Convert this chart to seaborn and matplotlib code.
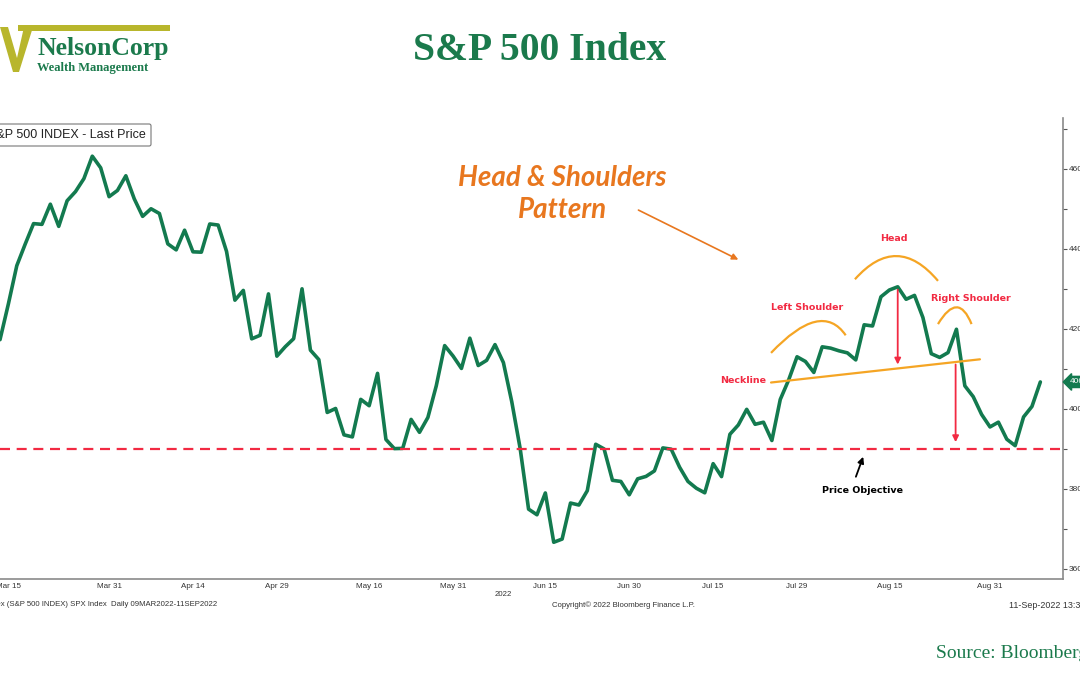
import numpy as np
import pandas as pd
import matplotlib.pyplot as plt
import seaborn as sns
from matplotlib.patches import PathPatch, Polygon, Rectangle
from matplotlib.path import Path
from matplotlib.transforms import blended_transform_factory

# S&P 500 daily closes, 09 Mar 2022 - 09 Sep 2022 (trading days only)
holidays = ["2022-04-15", "2022-05-30", "2022-06-20", "2022-07-04", "2022-09-05"]
closes = [
    4277.9, 4259.5, 4204.3,
    4173.1, 4262.5, 4357.9, 4411.7, 4463.1, 4461.2, 4511.6, 4456.2, 4520.2, 4543.1,
    4575.5, 4631.6, 4602.5, 4530.4,
    4545.9, 4582.6, 4525.1, 4481.2, 4500.2, 4488.3, 4412.5, 4397.5, 4446.6, 4392.6,
    4391.7, 4462.2, 4459.5, 4393.7, 4271.8, 4296.1, 4175.2, 4184.0, 4287.5, 4131.9,
    4155.4, 4175.5, 4300.2, 4146.9, 4123.3, 3991.2, 4001.1, 3935.2, 3930.1, 4023.9,
    4008.0, 4088.9, 3923.7, 3900.8, 3901.4, 3973.8, 3941.5, 3978.7, 4057.8, 4158.2,
    4132.2,
    4101.2, 4176.8, 4108.5, 4121.4, 4160.7, 4115.8, 4017.8, 3900.9, 3749.6, 3735.5,
    3790.0, 3666.8, 3674.8, 3764.8, 3759.9, 3795.7, 3911.7, 3900.1, 3821.6, 3818.8,
    3785.4,
    3825.3, 3831.4, 3845.1, 3902.6, 3899.4, 3854.4, 3818.8, 3801.8, 3790.4, 3863.2,
    3830.9, 3936.7, 3959.9, 3999.0, 3961.6, 3966.8, 3921.1, 4023.6, 4072.4, 4130.3,
    4118.6, 4091.2, 4155.2, 4151.9, 4145.2, 4140.1, 4122.5, 4210.2, 4207.3, 4280.2,
    4297.1, 4305.2, 4274.0, 4283.7, 4228.5, 4138.0, 4128.7, 4140.8, 4199.1, 4057.7,
    4030.6, 3986.2, 3955.0,
    3966.9, 3924.3, 3908.2, 3979.9, 4006.2, 4067.4,
]
tick_dates = ["2022-03-15", "2022-03-31", "2022-04-14", "2022-04-29", "2022-05-16",
              "2022-05-31", "2022-06-15", "2022-06-30", "2022-07-15", "2022-07-29",
              "2022-08-15", "2022-08-31"]
tick_labels = ["Mar 15", "Mar 31", "Apr 14", "Apr 29", "May 16", "May 31",
               "Jun 15", "Jun 30", "Jul 15", "Jul 29", "Aug 15", "Aug 31"]
price_ticks = [3600, 3800, 4000, 4200, 4400, 4600]
price_objective = 3900

GREEN = "#137a4f"
TITLE_GREEN = "#1b7a4c"
OLIVE = "#b8b62c"
ORANGE = "#e8771f"
ARC = "#f5a524"
RED = "#f22a42"
W, H = 1080, 675

dates = pd.bdate_range("2022-03-09", "2022-09-09")
dates = dates[~dates.isin(pd.to_datetime(holidays))]
assert len(dates) == len(closes)
df = pd.DataFrame({"date": dates, "close": closes})
# x position: trading-day count, 14 Mar = 0
df["x"] = np.arange(len(df)) - 3
pos = dict(zip(df["date"].dt.strftime("%Y-%m-%d"), df["x"]))

sns.set_style("white")
plt.rcParams["font.family"] = ["DejaVu Sans"]

fig = plt.figure(figsize=(W / 100, H / 100), dpi=100)
ax = fig.add_axes([0, 1 - 579 / H, 1063 / W, (579 - 118) / H])

sns.lineplot(data=df, x="x", y="close", ax=ax, color=GREEN, linewidth=2.6)
ax.axhline(price_objective, color=RED, lw=1.6, ls=(0, (4.5, 3)))

ax.set_xlim(0, 126.7)
ax.set_ylim(3575, 4727)
ax.set_xlabel("")
ax.set_ylabel("")

# axes styling (Bloomberg look)
for s in ["top", "left"]:
    ax.spines[s].set_visible(False)
for s in ["right", "bottom"]:
    ax.spines[s].set_color("#8a8a8a")
    ax.spines[s].set_linewidth(1.2)
ax.yaxis.tick_right()
ax.set_yticks(price_ticks)
ax.set_yticks([p + 100 for p in price_ticks], minor=True)
ax.set_yticklabels([str(p) for p in price_ticks], fontsize=6, color="#333333",
                   family="Liberation Sans")
ax.tick_params(axis="y", which="both", direction="out", length=3, width=0.8,
               color="#555555", pad=1)
xt = [pos[d] for d in tick_dates]
ax.set_xticks(xt)
ax.set_xticks([(a + b) / 2 for a, b in zip(xt[:-1], xt[1:])] + [xt[-1] + 5.5], minor=True)
ax.set_xticklabels(tick_labels, fontsize=5.8, color="#333333", family="Liberation Sans")
ax.tick_params(axis="x", which="both", direction="in", length=3, width=0.8,
               color="#666666", pad=3)

# last price tag
tr = blended_transform_factory(ax.transAxes, ax.transData)
last = df["close"].iloc[-1]
ax.text(1.006, last, f"{last:.0f}", transform=tr, fontsize=6, color="white",
        va="center", ha="left", family="Liberation Sans", clip_on=False,
        bbox=dict(boxstyle="larrow,pad=0.25", fc=GREEN, ec=GREEN))

# head & shoulders annotations
ax.text(67.0, 4537, "Head & Shoulders\nPattern", color=ORANGE, fontsize=20,
        family="Lato", weight="bold", style="italic", ha="center", va="center",
        linespacing=1.3)
ax.annotate("", xy=(88.3, 4370), xytext=(75.8, 4500),
            arrowprops=dict(arrowstyle="-|>", color=ORANGE, lw=1.2,
                            mutation_scale=9))


def arc(p0, c, p2):
    path = Path([p0, c, p2], [Path.MOVETO, Path.CURVE3, Path.CURVE3])
    ax.add_patch(PathPatch(path, fc="none", ec=ARC, lw=1.6))


arc((91.9, 4140), (97.9, 4273), (100.8, 4184))
arc((101.9, 4324), (106.9, 4442), (111.8, 4320))
arc((111.8, 4212), (114.2, 4296), (115.8, 4212))
ax.plot([91.9, 116.8], [4066, 4124], color=ARC, lw=1.6)

head = df.loc[df[df["x"] > 90]["close"].idxmax()]
ax.annotate("", xy=(head["x"], 4104), xytext=(head["x"], head["close"]),
            arrowprops=dict(arrowstyle="-|>", color=RED, lw=1.3, mutation_scale=9))
ax.annotate("", xy=(113.9, 3910), xytext=(113.9, 4118),
            arrowprops=dict(arrowstyle="-|>", color=RED, lw=1.3, mutation_scale=9))
ax.annotate("", xy=(103.0, 3887), xytext=(101.9, 3824),
            arrowprops=dict(arrowstyle="-|>", color="black", lw=1.3, mutation_scale=9))

lab = dict(fontsize=6.8, weight="bold", ha="center", va="center")
ax.text(96.2, 4254, "Left Shoulder", color=RED, **lab)
ax.text(106.6, 4425, "Head", color=RED, **lab)
ax.text(115.7, 4276, "Right Shoulder", color=RED, **lab)
ax.text(88.6, 4070, "Neckline", color=RED, **lab)
ax.text(102.8, 3797, "Price Objective", color="black", **lab)

# legend box (cut at the left edge like the source screenshot)
fig.text(146 / W, 1 - 135 / H, "S&P 500 INDEX - Last Price", fontsize=9,
         family="Liberation Sans", color="#222222", ha="right", va="center",
         bbox=dict(boxstyle="round,pad=0.4,rounding_size=0.15", fc="white",
                   ec="#777777", lw=0.8))

# footer texts
small = dict(fontsize=5.6, color="#333333", family="Liberation Sans", va="center")
fig.text(217 / W, 1 - 604 / H, "SPX Index (S&P 500 INDEX) SPX Index  Daily 09MAR2022-11SEP2022",
         ha="right", **small)
fig.text(503 / W, 1 - 595 / H, "2022", ha="center", **small)
fig.text(552 / W, 1 - 605 / H, "Copyright\u00a9 2022 Bloomberg Finance L.P.", ha="left", **small)
fig.text(1009 / W, 1 - 605 / H, "11-Sep-2022 13:30:42", ha="left", fontsize=6.4,
         color="#333333", family="Liberation Sans", va="center")

# title and source
fig.text(540 / W, 1 - 51 / H, "S&P 500 Index", fontsize=28.5, weight="bold",
         family="Liberation Serif", color=TITLE_GREEN, ha="center", va="center")
fig.text(936 / W, 1 - 654 / H, "Source: Bloomberg", fontsize=14,
         family="Liberation Serif", color=TITLE_GREEN, ha="left", va="center")

# logo
def fpx(pts):
    return [(x / W, 1 - y / H) for x, y in pts]


fig.add_artist(Polygon(fpx([(0, 27), (8, 27), (17, 58), (24, 27), (33, 27), (19, 72), (13, 72)]),
                       closed=True, fc=OLIVE, ec="none", transform=fig.transFigure))
fig.add_artist(Rectangle((18 / W, 1 - 31 / H), 152 / W, 6 / H, fc=OLIVE, ec="none",
                         transform=fig.transFigure))
fig.text(37 / W, 1 - 49 / H, "NelsonCorp", fontsize=18.5, weight="bold",
         family="Liberation Serif", color=TITLE_GREEN, ha="left", va="center")
fig.text(37 / W, 1 - 68 / H, "Wealth Management", fontsize=9, weight="bold",
         family="Liberation Serif", color=TITLE_GREEN, ha="left", va="center")

fig.savefig("out.png", dpi=100)
